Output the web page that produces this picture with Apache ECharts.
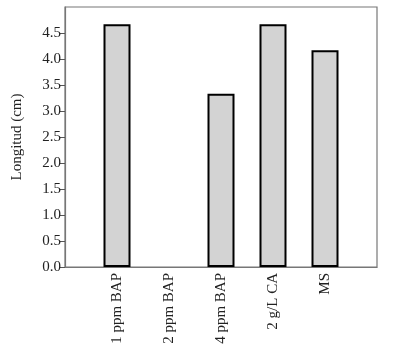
<!DOCTYPE html>
<html><head><meta charset="utf-8">
<script src="https://cdn.jsdelivr.net/npm/echarts@6/dist/echarts.min.js"></script>
<style>html,body{margin:0;padding:0;background:#fff}#c{width:393px;height:357px}</style>
</head><body><div id="c"></div>
<script>
const categories = ['1 ppm BAP', '2 ppm BAP', '4 ppm BAP', '2 g/L CA', 'MS'];
const values = [4.67, 0, 3.33, 4.67, 4.17];
const yTitle = 'Longitud (cm)';

const axisCats = [''].concat(categories, ['']);
const barData = [null].concat(values.map(v => v === 0 ? null : v), [null]);
const font = 'Liberation Serif';
const chart = echarts.init(document.getElementById('c'), null, {renderer: 'canvas'});
chart.setOption({
  animation: false,
  grid: {left: 65, right: 16, top: 7, bottom: 90, show: true, borderColor: '#777', borderWidth: 1.2, backgroundColor: 'transparent'},
  xAxis: {
    type: 'category', data: axisCats, boundaryGap: false,
    axisLine: {lineStyle: {color: '#777', width: 1.2}},
    axisTick: {show: false},
    axisLabel: {rotate: 90, margin: 6, interval: 0, fontFamily: font, fontSize: 15, color: '#222'}
  },
  yAxis: {
    type: 'value', min: 0, max: 5, interval: 0.5,
    name: yTitle, nameLocation: 'middle', nameGap: 40, nameRotate: 90,
    nameTextStyle: {fontFamily: font, fontSize: 15, color: '#222'},
    axisLine: {show: true, lineStyle: {color: '#777', width: 1.2}},
    axisTick: {show: true, length: 5, lineStyle: {color: '#555'}},
    splitLine: {show: false},
    axisLabel: {showMaxLabel: false, margin: 4, fontFamily: font, fontSize: 15, color: '#222', formatter: v => v.toFixed(1)}
  },
  series: [{
    type: 'bar', data: barData, barWidth: 27,
    itemStyle: {color: '#d3d3d3', borderColor: '#000', borderWidth: 2}
  }]
});
</script></body></html>
